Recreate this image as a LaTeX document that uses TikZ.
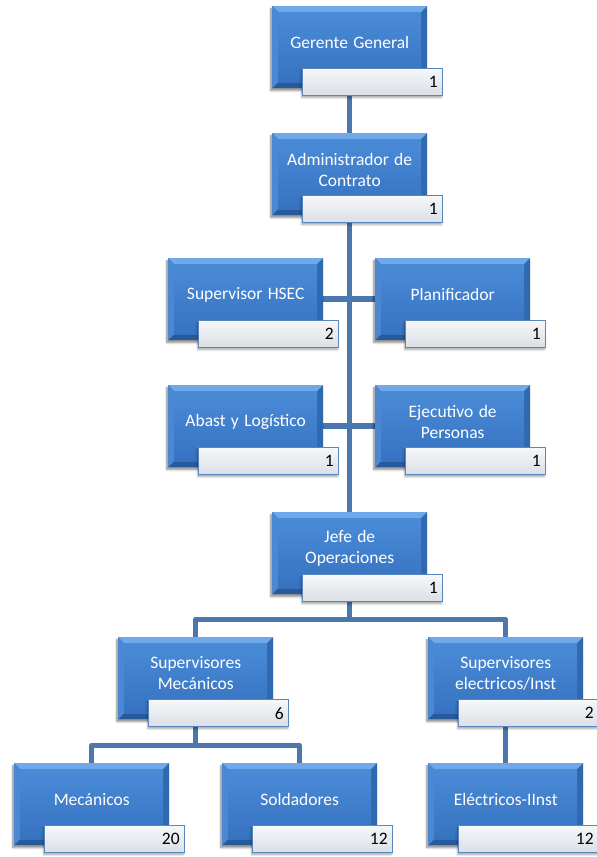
\documentclass[tikz,border=0pt]{standalone}
\usepackage{fontspec}
\setmainfont{Carlito}[WordSpace={1.35,0.5,0.5}]
\usetikzlibrary{shadows.blur,backgrounds,calc}
\definecolor{bevtop}{HTML}{6FA9EA}
\definecolor{bevleft}{HTML}{4A88D2}
\definecolor{bevright}{HTML}{3069B0}
\definecolor{bevbot}{HTML}{28599A}
\definecolor{facetop}{HTML}{4A8BD8}
\definecolor{facebot}{HTML}{3672BF}
\definecolor{cntborder}{HTML}{5A86BE}
\definecolor{cnttop}{HTML}{F6F7F9}
\definecolor{cntbot}{HTML}{DADFE6}
\definecolor{linkcol}{HTML}{4A77AC}
\tikzset{
  mainbox/.style={rectangle, minimum width=155pt, minimum height=82pt, inner sep=0pt,
    fill=bevbot,
    blur shadow={shadow xshift=-1.5pt, shadow yshift=-2.5pt, shadow blur steps=6, shadow opacity=45},
    path picture={
      \def\pp{path picture bounding box}
      \fill[bevtop] (\pp.north west) -- (\pp.north east) -- ([xshift=-6pt,yshift=-6pt]\pp.north east) -- ([xshift=6pt,yshift=-6pt]\pp.north west) -- cycle;
      \fill[bevleft] (\pp.north west) -- ([xshift=6pt,yshift=-6pt]\pp.north west) -- ([xshift=6pt,yshift=6pt]\pp.south west) -- (\pp.south west) -- cycle;
      \fill[bevright] (\pp.north east) -- ([xshift=-6pt,yshift=-6pt]\pp.north east) -- ([xshift=-6pt,yshift=6pt]\pp.south east) -- (\pp.south east) -- cycle;
      \shade[top color=facetop, bottom color=facebot] ([xshift=6pt,yshift=-6pt]\pp.north west) rectangle ([xshift=-6pt,yshift=6pt]\pp.south east);
    }},
  maintext/.style={text=white, align=center, inner sep=0pt,
    font=\fontsize{17.5}{21}\selectfont},
  countbox/.style={rectangle, draw=cntborder, line width=1.4pt,
    top color=cnttop, bottom color=cntbot,
    text width=130pt, align=right, inner xsep=5pt, inner ysep=0pt,
    minimum height=27pt, text=black,
    font=\fontsize{17.5}{21}\selectfont,
    blur shadow={shadow xshift=-1pt, shadow yshift=-2pt, shadow blur steps=5, shadow opacity=35}},
  link/.style={draw=linkcol, line width=5.5pt, line join=round},
}
\newcommand\orgbox[5]{%
  \node[mainbox, anchor=north west] (#1) at (#2pt,-#3pt) {};
  \node[maintext] (#1t) at ([yshift=-36.5pt]#1.north) {#4};
  \node[countbox, anchor=north west] (#1n) at ([xshift=30pt,yshift=-62pt]#1.north west) {#5};
}
\begin{document}
\begin{tikzpicture}
\useasboundingbox (0,0) rectangle (597pt,-857pt);
\orgbox{ger}{272}{6}{Gerente General}{1}
\orgbox{adm}{272}{133}{Administrador de\\Contrato}{1}
\orgbox{hsec}{168}{258}{Supervisor HSEC}{2}
\orgbox{plan}{375}{258}{Planificador}{1}
\orgbox{abast}{168}{385}{Abast y Logístico}{1}
\orgbox{ejec}{375}{385}{Ejecutivo de\\Personas}{1}
\orgbox{jefe}{272}{512}{Jefe de\\Operaciones}{1}
\orgbox{smec}{118}{637}{Supervisores\\Mecánicos}{6}
\orgbox{selec}{428}{637}{Supervisores\\electricos/Inst}{2}
\orgbox{mec}{14}{763}{Mecánicos}{20}
\orgbox{sold}{222}{763}{Soldadores}{12}
\orgbox{elect}{428}{763}{Eléctricos-IInst}{12}
\coordinate (jbus) at ([yshift=-25pt]jefe.south);
\coordinate (mbus) at ([yshift=-26pt]smec.south);
\begin{scope}[on background layer]
  \draw[link] (ger.south) -- (adm.north);
  \draw[link] (adm.south) -- (jefe.north);
  \draw[link] (hsec.east) -- (plan.west);
  \draw[link] (abast.east) -- (ejec.west);
  \draw[link] (jefe.south) -- (jbus);
  \draw[link] (smec.north) |- (jbus) -| (selec.north);
  \draw[link] (smec.south) -- (mbus);
  \draw[link] (mec.north) |- (mbus) -| (sold.north);
  \draw[link] (selec.south) -- (elect.north);
\end{scope}
\end{tikzpicture}
\end{document}
